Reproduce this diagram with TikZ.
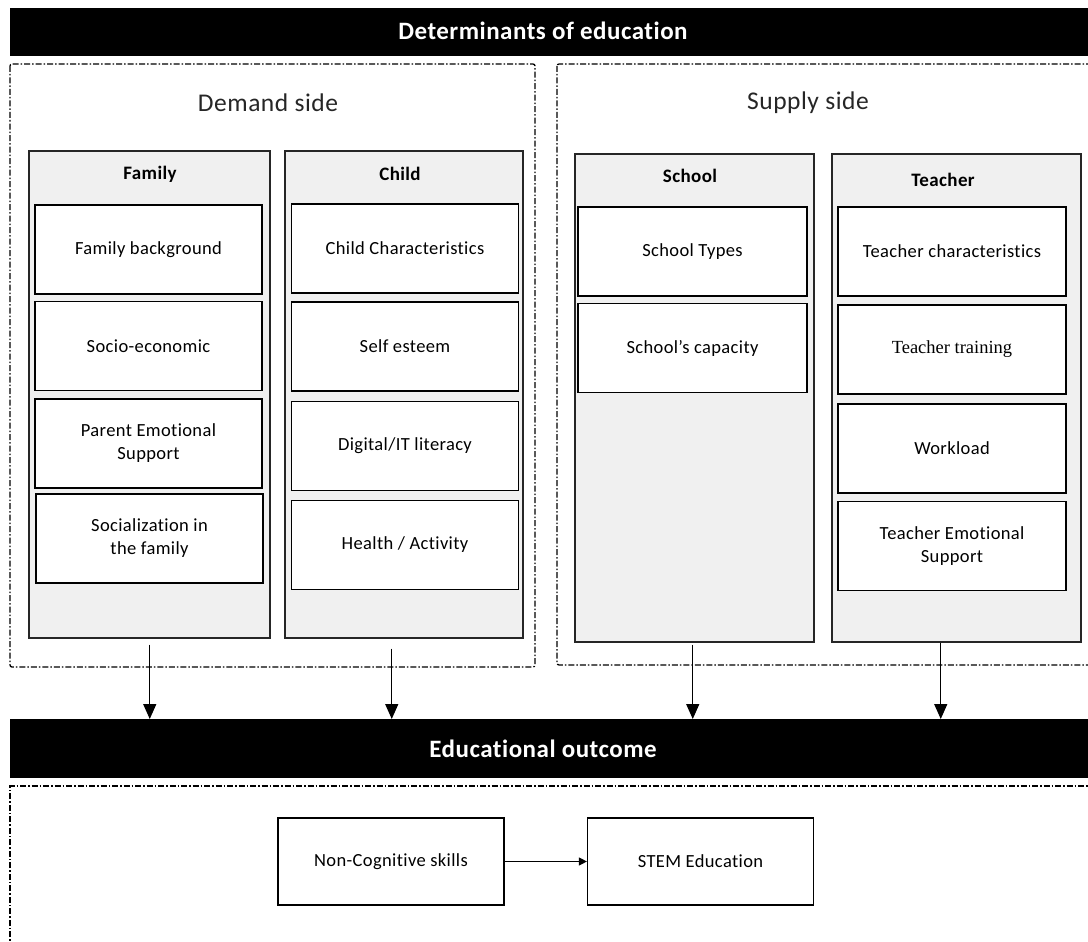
\documentclass[tikz,border=0pt]{standalone}
\usepackage{fontspec}
\setmainfont{Carlito}[LetterSpace=2, Ligatures=NoCommon]
\newfontfamily\timesfont{Liberation Serif}
\usepackage{tikz}
\usetikzlibrary{arrows.meta}
\usetikzlibrary{positioning}
\definecolor{panelgrey}{HTML}{F0F0F0}
\tikzstyle{outline}=[draw=black, line width=1.3pt, dash pattern=on 6pt off 2pt on 1.5pt off 2pt]
\tikzstyle{bar}=[fill=black, draw=none, inner sep=0pt]
\tikzstyle{bartext}=[text=white, font=\fontsize{25}{30}\selectfont\bfseries]
\tikzstyle{sidetitle}=[font=\fontsize{25.5}{30}\selectfont, text=black!85]
\tikzstyle{panel}=[draw=black!85, line width=1.5pt, fill=panelgrey, anchor=north west, inner sep=0pt]
\tikzstyle{paneltitle}=[font=\fontsize{19}{23}\selectfont\bfseries]
\tikzstyle{itembox}=[draw=black, line width=1.5pt, fill=white, minimum width=227pt, minimum height=89pt, align=center, inner sep=0pt, font=\fontsize{18.5}{23}\selectfont]
\tikzstyle{outbox}=[draw=black, line width=1.2pt, fill=white, minimum width=226pt, minimum height=87pt, inner sep=0pt, font=\fontsize{18.5}{22}\selectfont]
\tikzstyle{downarrow}=[line width=1.4pt, -{Triangle[length=15pt,width=13pt]}]

\begin{document}
\begin{tikzpicture}[x=1pt,y=-1pt]
  \clip (0,0) rectangle (1088,942);
  \fill[white] (0,0) rectangle (1088,942);

  \node[bar, anchor=north west, minimum width=1090pt, minimum height=48pt] (topbar) at (10,8) {};
  \node[bartext] (toptext) at (543,31) {Determinants of education};

  \draw[outline, rounded corners=2pt] (10,64) rectangle (535,667);
  \draw[outline, rounded corners=2pt] (557,64) rectangle (1100,665);
  \node[sidetitle] (demand) at (268,103) {Demand side};
  \node[sidetitle] (supply) at (808,103) {Supply side};

  \node[panel, minimum width=241pt, minimum height=487pt] (family) at (28,150) {};
  \node[panel, minimum width=238pt, minimum height=487pt] (child) at (284,150) {};
  \node[panel, minimum width=239pt, minimum height=488pt] (school) at (574,153) {};
  \node[panel, minimum width=249pt, minimum height=488pt] (teacher) at (831,153) {};

  \node[paneltitle] (familytitle) at (150,174) {Family};
  \node[paneltitle] (childtitle) at (400,174) {Child};
  \node[paneltitle] (schooltitle) at (690,176) {School};
  \node[paneltitle] (teachertitle) at (943,180) {Teacher};

  \node[itembox] (fam1) at (148.5,249.5) {Family background};
  \node[itembox] (fam2) at (148.5,346) {Socio-economic};
  \node[itembox] (fam3) at (148.5,443.5) {Parent Emotional\\Support};
  \node[itembox] (fam4) at (149.5,538.5) {Socialization in\\the family};

  \node[itembox] (chi1) at (405,248.5) {Child Characteristics};
  \node[itembox] (chi2) at (405,346.5) {Self esteem};
  \node[itembox] (chi3) at (405,446) {Digital/IT literacy};
  \node[itembox] (chi4) at (405,545) {Health / Activity};

  \node[itembox, minimum width=229pt] (sch1) at (692.5,251.5) {School Types};
  \node[itembox, minimum width=229pt] (sch2) at (692.5,348) {School’s capacity};

  \node[itembox, minimum width=228pt] (tea1) at (952,251.5) {Teacher characteristics};
  \node[itembox, minimum width=228pt] (tea2) at (952,349.5) {\timesfont Teacher training};
  \node[itembox, minimum width=228pt] (tea3) at (952,448.5) {Workload};
  \node[itembox, minimum width=228pt] (tea4) at (952,546) {Teacher Emotional\\Support};

  \node[bar, anchor=north west, minimum width=1090pt, minimum height=59pt] (outbar) at (10,719) {};
  \node[bartext] (outtext) at (543,749) {Educational outcome};

  \draw[downarrow] ([xshift=0.5pt,yshift=-6pt]family.south) -- ([xshift=0.5pt]family.south |- outbar.north);
  \draw[downarrow] ([xshift=-12pt,yshift=-10pt]child.south) -- ([xshift=-12pt]child.south |- outbar.north);
  \draw[downarrow] ([xshift=-1.5pt,yshift=-2pt]school.south) -- ([xshift=-1.5pt]school.south |- outbar.north);
  \draw[downarrow] ([xshift=-15.5pt]teacher.south) -- ([xshift=-15.5pt]teacher.south |- outbar.north);

  \draw[outline] (10,960) -- (10,786) -- (1100,786);

  \node[outbox] (noncog) at (391,861.5) {Non-Cognitive skills};
  \node[outbox] (stem) at (700.5,861.5) {STEM Education};
  \draw[line width=1.2pt, -{Triangle[length=8pt,width=8pt]}] (noncog) -- (stem);
\end{tikzpicture}
\end{document}
